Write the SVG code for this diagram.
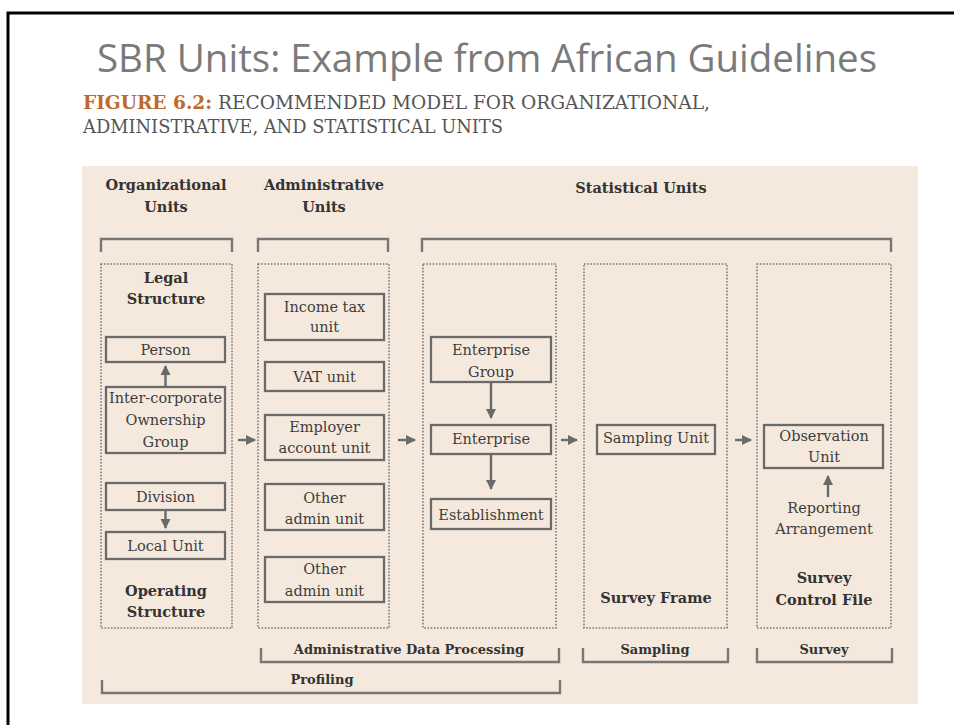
<svg xmlns="http://www.w3.org/2000/svg" width="954" height="725" viewBox="0 0 954 725">
<style>
.title{font-family:"Open Sans","Liberation Sans",sans-serif;font-size:38.5px;fill:#7a7a7a}
.sub{font-family:"DejaVu Serif Condensed","DejaVu Serif",serif;font-size:19px;fill:#555}
.fig{fill:#c0692b;font-weight:bold}
.hd{font-family:"DejaVu Serif",serif;font-size:14.5px;font-weight:bold;fill:#333;text-anchor:middle}
.lb{font-family:"DejaVu Serif",serif;font-size:13px;font-weight:bold;fill:#333;text-anchor:middle}
.tx{font-family:"DejaVu Serif",serif;font-size:14.5px;fill:#3d3d3d;text-anchor:middle}
.dot{fill:none;stroke:#7a7a7a;stroke-width:1.6;stroke-dasharray:1.6 1.6}
.box{fill:#f5e9dd;stroke:#6a6a6a;stroke-width:2.3}
.br{fill:none;stroke:#777;stroke-width:2.4}
.ar{fill:none;stroke:#6a6a6a;stroke-width:2.4}
</style>
<defs>
<marker id="ah" viewBox="0 0 10 10" refX="9" refY="5" markerUnits="userSpaceOnUse" markerWidth="10" markerHeight="12" orient="auto">
<path d="M0,0 L10,5 L0,10 z" fill="#6a6a6a"/>
</marker>
</defs>
<rect width="954" height="725" fill="#ffffff"/>
<path d="M8,725 V13 H954" fill="none" stroke="#000" stroke-width="3"/>
<text class="title" x="97" y="72">SBR Units: Example from African Guidelines</text>
<text class="sub" x="83" y="109" textLength="627" lengthAdjust="spacingAndGlyphs"><tspan class="fig">FIGURE 6.2:</tspan> RECOMMENDED MODEL FOR ORGANIZATIONAL,</text>
<text class="sub" x="83" y="133" textLength="420" lengthAdjust="spacingAndGlyphs">ADMINISTRATIVE, AND STATISTICAL UNITS</text>
<rect x="82" y="166" width="836" height="538" fill="#f5e9dd"/>
<g id="headers">
<text class="hd" x="166" y="190">Organizational</text>
<text class="hd" x="166" y="212">Units</text>
<text class="hd" x="324" y="190">Administrative</text>
<text class="hd" x="324" y="212">Units</text>
<text class="hd" x="641" y="193">Statistical Units</text>
</g>
<g id="brackets">
<path class="br" d="M101,252 V239 H232 V252"/>
<path class="br" d="M258,252 V239 H388 V252"/>
<path class="br" d="M422,252 V239 H891 V252"/>
<path class="br" d="M261,648 V662 H559 V648"/>
<path class="br" d="M583,648 V662 H728 V648"/>
<path class="br" d="M757,648 V662 H892 V648"/>
<path class="br" d="M102,680 V693 H560 V680"/>
<text class="lb" x="409" y="654">Administrative Data Processing</text>
<text class="lb" x="655" y="654">Sampling</text>
<text class="lb" x="824" y="654">Survey</text>
<text class="lb" x="322" y="684">Profiling</text>
</g>
<g id="col-org">
<rect class="dot" x="101" y="264" width="131" height="364"/>
<text class="hd" x="166" y="283">Legal</text>
<text class="hd" x="166" y="304">Structure</text>
<text class="hd" x="166" y="596">Operating</text>
<text class="hd" x="166" y="617">Structure</text>
</g>
<g id="person"><rect class="box" x="106" y="337" width="119" height="25"/><text class="tx" x="165.5" y="355">Person</text></g>
<g id="intercorp"><rect class="box" x="106" y="387" width="119" height="66"/><text class="tx" x="165.5" y="403">Inter-corporate</text><text class="tx" x="165.5" y="425">Ownership</text><text class="tx" x="165.5" y="447">Group</text></g>
<g id="division"><rect class="box" x="106" y="483" width="119" height="27"/><text class="tx" x="165.5" y="502">Division</text></g>
<g id="localunit"><rect class="box" x="106" y="532" width="119" height="27"/><text class="tx" x="165.5" y="551">Local Unit</text></g>
<g id="col-admin">
<rect class="dot" x="258" y="264" width="131" height="364"/>
</g>
<g id="incometax"><rect class="box" x="265" y="294" width="119" height="46"/><text class="tx" x="324.5" y="312">Income tax</text><text class="tx" x="324.5" y="332">unit</text></g>
<g id="vat"><rect class="box" x="265" y="362" width="119" height="29"/><text class="tx" x="324.5" y="382">VAT unit</text></g>
<g id="employer"><rect class="box" x="265" y="415" width="119" height="45"/><text class="tx" x="324.5" y="432">Employer</text><text class="tx" x="324.5" y="453">account unit</text></g>
<g id="otheradmin1"><rect class="box" x="265" y="484" width="119" height="46"/><text class="tx" x="324.5" y="503">Other</text><text class="tx" x="324.5" y="524">admin unit</text></g>
<g id="otheradmin2"><rect class="box" x="265" y="557" width="119" height="45"/><text class="tx" x="324.5" y="574">Other</text><text class="tx" x="324.5" y="596">admin unit</text></g>
<g id="col-stat">
<rect class="dot" x="423" y="264" width="133" height="364"/>
</g>
<g id="entgroup"><rect class="box" x="431" y="337" width="120" height="45"/><text class="tx" x="491" y="355">Enterprise</text><text class="tx" x="491" y="377">Group</text></g>
<g id="enterprise"><rect class="box" x="431" y="425" width="120" height="29"/><text class="tx" x="491" y="444">Enterprise</text></g>
<g id="establishment"><rect class="box" x="431" y="499" width="120" height="30"/><text class="tx" x="491" y="520">Establishment</text></g>
<g id="col-frame">
<rect class="dot" x="584" y="264" width="143" height="364"/>
<text class="hd" x="656" y="603">Survey Frame</text>
</g>
<g id="sampling"><rect class="box" x="597" y="425" width="118" height="29"/><text class="tx" x="656" y="443">Sampling Unit</text></g>
<g id="col-survey">
<rect class="dot" x="757" y="264" width="134" height="364"/>
<text class="tx" x="824" y="513">Reporting</text>
<text class="tx" x="824" y="534">Arrangement</text>
<text class="hd" x="824" y="583">Survey</text>
<text class="hd" x="824" y="605">Control File</text>
</g>
<g id="observation"><rect class="box" x="764" y="425" width="119" height="43"/><text class="tx" x="824" y="441">Observation</text><text class="tx" x="824" y="462">Unit</text></g>
<g id="connectors">
<line class="ar" x1="165.5" y1="387" x2="165.5" y2="366" marker-end="url(#ah)"/>
<line class="ar" x1="165.5" y1="510" x2="165.5" y2="528" marker-end="url(#ah)"/>
<line class="ar" x1="238" y1="440" x2="255" y2="440" marker-end="url(#ah)"/>
<line class="ar" x1="398" y1="440" x2="415" y2="440" marker-end="url(#ah)"/>
<line class="ar" x1="561" y1="440" x2="577" y2="440" marker-end="url(#ah)"/>
<line class="ar" x1="735" y1="440" x2="751" y2="440" marker-end="url(#ah)"/>
<line class="ar" x1="491" y1="382" x2="491" y2="418" marker-end="url(#ah)"/>
<line class="ar" x1="491" y1="454" x2="491" y2="489" marker-end="url(#ah)"/>
<line class="ar" x1="828" y1="497" x2="828" y2="476" marker-end="url(#ah)"/>
</g>
</svg>
